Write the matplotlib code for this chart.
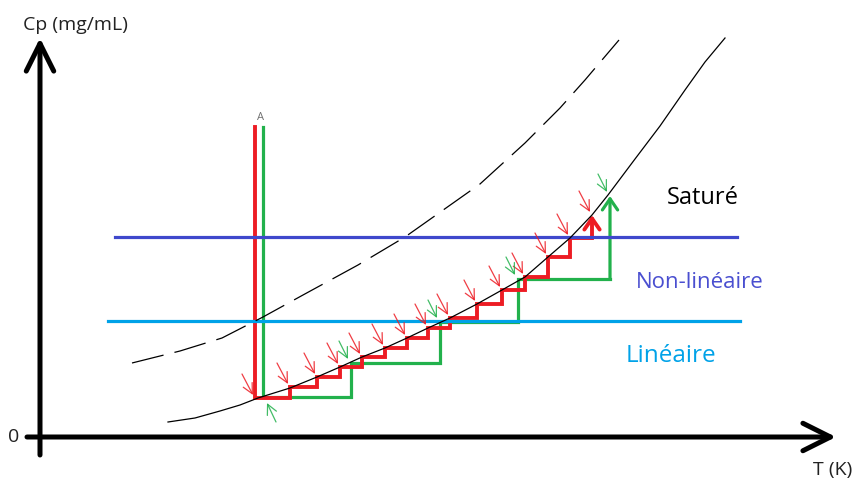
import matplotlib
matplotlib.use("Agg")
import matplotlib.pyplot as plt

# solubility curve (solid) and supersolubility curve (dashed), T vs Cp
sol_T = [128, 155, 180, 200, 218, 250, 277, 300, 322, 345, 367, 388, 410, 437, 462, 485, 508, 530, 552, 568, 595, 620, 645, 665, 685]
sol_Cp = [15, 19, 26, 32, 39, 49, 60, 70, 80, 89, 99, 109, 119, 133, 147, 160, 180, 199, 222, 242, 278, 311, 347, 375, 399]

sup_T = [92, 140, 182, 223, 263, 318, 365, 440, 485, 520, 545, 579]
sup_Cp = [74, 86, 99, 120, 142, 172, 200, 253, 294, 329, 357, 397]

# limits between regimes
nonlin_Cp = 200
lin_Cp = 116

# point A (start of both cooling paths)
A_Cp = 310

# red path: many small steps
red_T = [215, 250, 277, 300, 322, 345, 367, 388, 410, 437, 462, 485, 508, 530, 552]
red_Cp = [39, 50, 60, 70, 80, 89, 99, 109, 119, 133, 147, 160, 180, 199, 222]

# green path: few large steps
green_T = [223, 311, 400, 478, 570]
green_Cp = [40, 74, 115, 158, 241]

RED = "#ed1c24"
GREEN = "#22b14c"
BLUE = "#3f48cc"
CYAN = "#00a2e8"


def staircase(T, Cp, top):
    xs, ys = [T[0], T[0]], [top, Cp[0]]
    for k in range(len(T) - 1):
        xs += [T[k + 1], T[k + 1]]
        ys += [Cp[k], Cp[k + 1]]
    return xs, ys


def draw_path(ax, T, Cp, color, lw):
    xs, ys = staircase(T, Cp, A_Cp)
    # everything but the last riser is a plain line, last riser is an arrow
    ax.plot(xs[:-1], ys[:-1], color=color, lw=lw, solid_joinstyle="miter", zorder=3)
    ax.annotate("", xy=(xs[-1], ys[-1]), xytext=(xs[-2], ys[-2]),
                arrowprops=dict(arrowstyle="->,head_length=0.8,head_width=0.55",
                                mutation_scale=10, color=color, lw=lw,
                                shrinkA=0, shrinkB=0), zorder=3)


def small_arrow(ax, T, Cp, color, dx, dy):
    ax.annotate("", xy=(T, Cp), xytext=(T + dx, Cp + dy),
                arrowprops=dict(arrowstyle="->,head_length=0.6,head_width=0.3",
                                mutation_scale=12, color=color, lw=0.9, alpha=0.85,
                                shrinkA=0, shrinkB=0), zorder=6)


fig = plt.figure(figsize=(8.57, 4.84), dpi=100)
ax = fig.add_axes([0, 0, 1, 1])
ax.set_xlim(-40, 817)
ax.set_ylim(-47, 437)
ax.axis("off")

# axes arrows
axis_arrow = dict(arrowstyle="->,head_length=0.9,head_width=0.45", mutation_scale=22,
                  color="black", lw=3.6, shrinkA=0, shrinkB=0)
ax.annotate("", xy=(0, 399), xytext=(0, -18), arrowprops=axis_arrow)
ax.annotate("", xy=(796, 0), xytext=(-13, 0), arrowprops=axis_arrow)

ax.text(35, 412, "Cp (mg/mL)", fontsize=14, family="Open Sans", ha="center", va="center", color="#222222")
ax.text(-26, 0, "0", fontsize=14, family="Open Sans", ha="center", va="center", color="#222222")
ax.text(793, -33, "T (K)", fontsize=14, family="Open Sans", ha="center", va="center", color="#222222")

# curves
ax.plot(sol_T, sol_Cp, color="black", lw=0.9, zorder=5)
ax.plot(sup_T, sup_Cp, color="black", lw=0.9, dashes=(26, 9), zorder=5)

# regime limits
ax.plot([75, 697], [nonlin_Cp, nonlin_Cp], color=BLUE, lw=2.3, zorder=4)
ax.plot([68, 700], [lin_Cp, lin_Cp], color=CYAN, lw=2.3, zorder=4)

ax.text(663, 239, "Saturé", fontsize=17, family="Open Sans", ha="center", va="center", color="black")
ax.text(660, 155, "Non-linéaire", fontsize=16, family="Open Sans", ha="center", va="center", color="#4a4fd0")
ax.text(631, 81, "Linéaire", fontsize=17.5, family="Open Sans", ha="center", va="center", color=CYAN)

# cooling paths
draw_path(ax, green_T, green_Cp, GREEN, 2.3)
draw_path(ax, red_T, red_Cp, RED, 2.8)
ax.text(221, 320, "A", fontsize=8, family="Open Sans", ha="center", va="center", color="#707070")

for T, Cp in zip(red_T, red_Cp):
    small_arrow(ax, T - 2, Cp + 3, RED, -11, 21)
small_arrow(ax, green_T[0] + 4, green_Cp[0] - 6, GREEN, 9, -19)
for T, Cp in zip(green_T[1:], green_Cp[1:]):
    small_arrow(ax, T - 3, Cp + 4, GREEN, -9, 18)

fig.savefig("out.png", dpi=100)
